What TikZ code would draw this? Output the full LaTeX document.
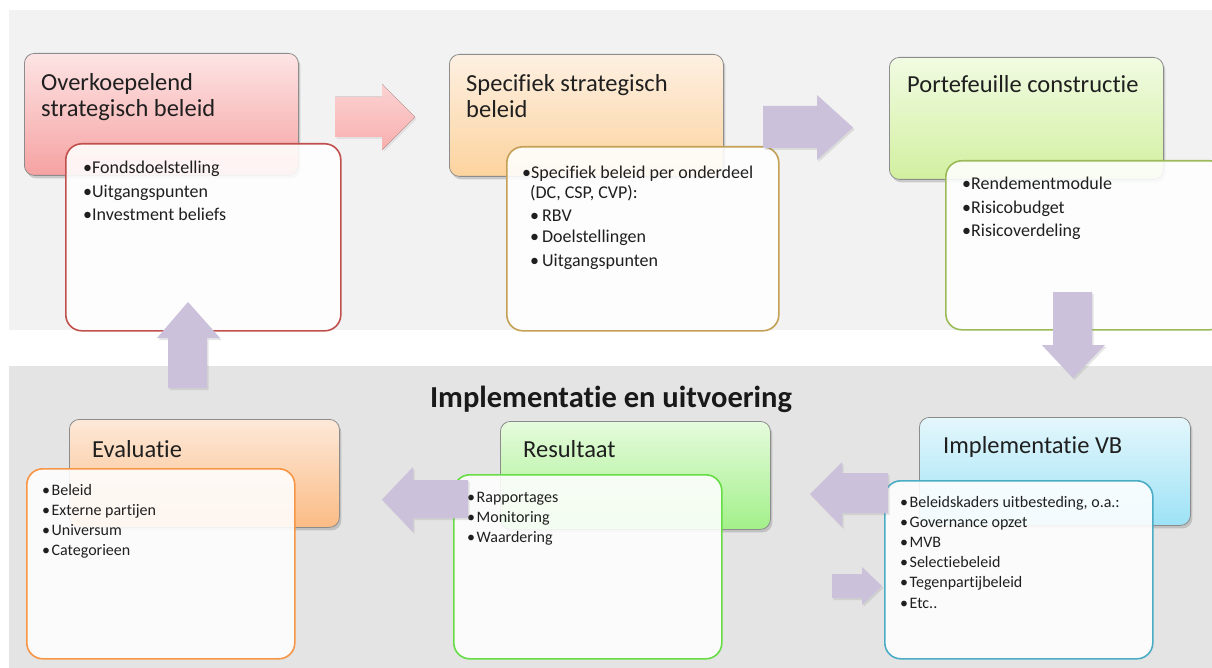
\documentclass[tikz,border=0pt]{standalone}
\usepackage{fontspec}
\setmainfont{Carlito}[Ligatures={NoCommon}]
\usetikzlibrary{shadows}
\definecolor{bgtop}{HTML}{F2F2F2}
\definecolor{bgbot}{HTML}{E4E4E4}
\definecolor{arrowpurple}{HTML}{CCC1DA}
\definecolor{hdrborder}{HTML}{8C8C8C}
\definecolor{redline}{HTML}{C0504D}
\definecolor{goldline}{HTML}{C4A055}
\definecolor{greenline}{HTML}{9BBB59}
\definecolor{orangeline}{HTML}{F79646}
\definecolor{limeline}{HTML}{66DD44}
\definecolor{cyanline}{HTML}{4BACC6}
\definecolor{h1t}{HTML}{FDE4E4}\definecolor{h1b}{HTML}{F6A2A2}
\definecolor{h2t}{HTML}{FDF0E2}\definecolor{h2b}{HTML}{FCD39E}
\definecolor{h3t}{HTML}{F1FBE2}\definecolor{h3b}{HTML}{D2F0A0}
\definecolor{h4t}{HTML}{FDE9D9}\definecolor{h4b}{HTML}{FBBC85}
\definecolor{h5t}{HTML}{E6FBDD}\definecolor{h5b}{HTML}{A2F08A}
\definecolor{h6t}{HTML}{E4F7FC}\definecolor{h6b}{HTML}{9DE2F6}
\definecolor{pinkt}{HTML}{FCD2D2}\definecolor{pinkb}{HTML}{F8AFAF}
\tikzset{
  hdr/.style={draw=hdrborder, line width=0.8pt, rounded corners=10pt, anchor=north west, inner sep=0pt,
    drop shadow={opacity=0.35, shadow xshift=2pt, shadow yshift=-3pt}},
  cbox/.style={line width=1.6pt, rounded corners=16pt, anchor=north west, inner sep=0pt,
    fill=white, fill opacity=0.88, draw opacity=1},
  htitle/.style={anchor=base west, inner sep=0pt, font=\fontsize{24.5}{28}\selectfont, text=black!88},
  bul/.style={anchor=base west, inner sep=0pt, font=\fontsize{18}{22}\selectfont, text=black!88},
  bulsmall/.style={anchor=base west, inner sep=0pt, font=\fontsize{16}{20}\selectfont, text=black!88},
  barrow/.style={fill=arrowpurple, drop shadow={opacity=0.2, shadow xshift=1.5pt, shadow yshift=-2pt}},
}
\begin{document}
\begin{tikzpicture}[x=1pt,y=-1pt]
\useasboundingbox (0,0) rectangle (1212,668);
\fill[white] (0,0) rectangle (1212,668);
% background bands
\fill[bgtop] (9,10) rectangle (1212,330);
\fill[bgbot] (9,366) rectangle (1212,668);

% ---------- headers ----------
\node[hdr, top color=h1t, bottom color=h1b, minimum width=274pt, minimum height=122pt] (h1) at (24,53) {};
\node[hdr, top color=h2t, bottom color=h2b, minimum width=274pt, minimum height=122pt] (h2) at (449,54) {};
\node[hdr, top color=h3t, bottom color=h3b, minimum width=274pt, minimum height=122pt] (h3) at (889,57) {};
\node[hdr, top color=h4t, bottom color=h4b, minimum width=270pt, minimum height=108pt] (h4) at (69,419) {};
\node[hdr, top color=h5t, bottom color=h5b, minimum width=270pt, minimum height=108pt] (h5) at (500,421) {};
\node[hdr, top color=h6t, bottom color=h6b, minimum width=271pt, minimum height=108pt] (h6) at (919,417) {};

% ---------- content boxes ----------
\node[cbox, draw=redline, minimum width=275pt, minimum height=187pt] (c1) at (65,143) {};
\node[cbox, draw=goldline, minimum width=272pt, minimum height=184pt] (c2) at (506,146) {};
\node[cbox, draw=greenline, minimum width=280pt, minimum height=169pt] (c3) at (945,160) {};
\node[cbox, draw=orangeline, minimum width=268pt, minimum height=190pt] (c4) at (26,468) {};
\node[cbox, draw=limeline, minimum width=268pt, minimum height=184pt] (c5) at (453,474) {};
\node[cbox, draw=cyanline, minimum width=268pt, minimum height=178pt] (c6) at (884,480) {};

% ---------- header titles ----------
\node[htitle] (t1a) at (41,91) {Overkoepelend};
\node[htitle] (t1b) at (41,117) {strategisch beleid};
\node[htitle] (t2a) at (466,92) {Specifiek strategisch};
\node[htitle] (t2b) at (466,118) {beleid};
\node[htitle] (t3) at (907,93) {Portefeuille constructie};
\node[htitle] (t4) at (92,457) {Evaluatie};
\node[htitle] (t5) at (523,457) {Resultaat};
\node[htitle] (t6) at (943,453) {Implementatie VB};
\node[anchor=base, inner sep=0pt, font=\bfseries\fontsize{30.5}{34}\selectfont, text=black!90] (title) at (611,407) {Implementatie en uitvoering};

% ---------- bullets ----------
\foreach \t [count=\i] in {Fondsdoelstelling, Uitgangspunten, Investment beliefs}
  \node[bul] (b1-\i) at (83,{174+23.5*(\i-1)}) {\textbullet\t};

\node[bul] (b2-1) at (522,179) {\textbullet Specifiek beleid per onderdeel};
\node[bul] (b2-2) at (530,199) {(DC, CSP, CVP):};
\node[bul] (b2-3) at (530,222) {\textbullet\,RBV};
\node[bul] (b2-4) at (530,243) {\textbullet\,Doelstellingen};
\node[bul] (b2-5) at (530,266) {\textbullet\,Uitgangspunten};

\foreach \t [count=\i] in {Rendementmodule, Risicobudget, Risicoverdeling}
  \node[bul] (b3-\i) at (962,{190+23.5*(\i-1)}) {\textbullet\t};

\foreach \t [count=\i] in {Beleid, Externe partijen, Universum, Categorieen}
  \node[bulsmall] (b4-\i) at (42,{495+20.3*(\i-1)}) {\textbullet\hspace{1.5pt}\t};

\foreach \t [count=\i] in {Rapportages, Monitoring, Waardering}
  \node[bulsmall] (b5-\i) at (467,{502+20*(\i-1)}) {\textbullet\hspace{1.5pt}\t};

\foreach \t [count=\i] in {{Beleidskaders uitbesteding, o.a.:}, Governance opzet, MVB, Selectiebeleid, Tegenpartijbeleid, Etc..}
  \node[bulsmall] (b6-\i) at (900,{507+20.2*(\i-1)}) {\textbullet\hspace{1.5pt}\t};

% ---------- block arrows ----------
\fill[top color=pinkt, bottom color=pinkb, drop shadow={opacity=0.15, shadow xshift=1.5pt, shadow yshift=-2pt}]
  (335,97) -- (382,97) -- (382,84) -- (415,117) -- (382,150) -- (382,137) -- (335,137) -- cycle;
\fill[barrow] (763,106) -- (817,106) -- (817,95) -- (853,127.5) -- (817,160) -- (817,148) -- (763,148) -- cycle;
\fill[barrow] (1053,292) -- (1092,292) -- (1092,345) -- (1105,345) -- (1073,378) -- (1042,345) -- (1053,345) -- cycle;
\fill[barrow] (168,388) -- (207,388) -- (207,338) -- (220,338) -- (188,302) -- (157,338) -- (168,338) -- cycle;
\fill[barrow] (468,480) -- (413,480) -- (413,467) -- (382,499.5) -- (413,532) -- (413,518) -- (468,518) -- cycle;
\fill[barrow] (888,473) -- (842,473) -- (842,462) -- (810,494) -- (842,527) -- (842,513) -- (888,513) -- cycle;
\fill[barrow] (832,574) -- (862,574) -- (862,567) -- (882,586) -- (862,605) -- (862,598) -- (832,598) -- cycle;
\end{tikzpicture}
\end{document}
